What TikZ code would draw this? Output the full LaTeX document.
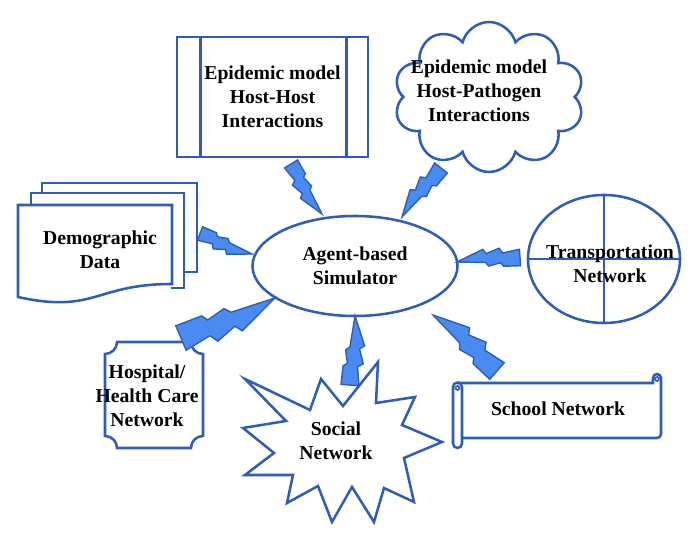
\documentclass[tikz,border=0pt]{standalone}
\usepackage{fontspec}
\setmainfont{Liberation Serif}
\usetikzlibrary{shapes.geometric,shapes.symbols,calc}
\definecolor{edge}{HTML}{2F5DB3}
\definecolor{boltfill}{HTML}{4A8BF2}

% lightning bolt from wide end #1 to tip #2
\newcommand\drawbolt[2]{%
  \filldraw[bolt] let \p1=(#1), \p2=(#2),
    \n1={atan2(\y2-\y1,\x2-\x1)}, \n2={veclen(\x2-\x1,\y2-\y1)} in
    [shift={(\p1)}, rotate=\n1, x=\n2, y=\n2]
    (0,0.13) -- (0.27,0.12) -- (0.31,0.06) -- (0.50,0.10) -- (0.55,0.04) -- (1,0)
    -- (0.58,-0.17) -- (0.53,-0.10) -- (0.32,-0.17) -- (0.27,-0.09) -- (0,-0.13) -- cycle;}

\begin{document}
\begin{tikzpicture}[
  x=0.025cm, y=-0.025cm,
  font=\fontsize{14}{17}\selectfont\bfseries,
  outline/.style={draw=edge, line width=1.8pt},
  txt/.style={align=center, inner sep=0pt},
  bolt/.style={draw=edge, fill=boltfill, line width=1pt},
]
\useasboundingbox[fill=white] (0,0) rectangle (700,551);
% --- centre ---
\node[outline, ellipse, minimum width=5.125cm, minimum height=2.5cm, txt] (abs) at (355,266) {Agent-based\\Simulator};
% --- host-host model (predefined process) ---
\node[outline, minimum width=4.775cm, minimum height=3cm, txt] (hosthost) at (272.5,97) {Epidemic model\\Host-Host\\Interactions};
\draw[outline] ($(hosthost.north west)+(25,0)$) -- ($(hosthost.south west)+(25,0)$);
\draw[outline] ($(hosthost.north east)+(-23,0)$) -- ($(hosthost.south east)+(-23,0)$);
% --- host-pathogen model (cloud) ---
\node[outline, cloud, cloud puffs=10, cloud ignores aspect, minimum width=4.75cm, minimum height=3.75cm] (hostpath) at (489,97) {};
\node[txt] (hostpathlbl) at (479,91) {Epidemic model\\Host-Pathogen\\Interactions};
% --- demographic data (multi-document) ---
\draw[outline] (42,193) -- (42,183) -- (197,183) -- (197,272) -- (184,272);
\draw[outline] (31,205) -- (31,193) -- (184,193) -- (184,288) -- (171,288);
\draw[outline, fill=white] (18,205) -- (172,205) -- (172,284) .. controls (95,284) and (95,314) .. (18,297) -- cycle;
\node[txt] (demog) at (100,250) {Demographic\\Data};
% --- transportation ---
\node[outline, ellipse, minimum width=3.8cm, minimum height=3.2cm] (transport) at (604,259) {};
\draw[outline] (transport.north) -- (transport.south);
\draw[outline] (transport.west) -- (transport.east);
\node[txt] (transportlbl) at (610,264) {Transportation\\Network};
% --- hospital (plaque) ---
\draw[outline] (117,342) -- (191,342) arc[start angle=180, end angle=90, radius=12]
  -- (203,436) arc[start angle=270, end angle=180, radius=12]
  -- (117,448) arc[start angle=0, end angle=-90, radius=12]
  -- (105,354) arc[start angle=90, end angle=0, radius=12] -- cycle;
\node[txt] (hospital) at (147,396) {Hospital/\\Health Care\\Network};
% --- social network (starburst) ---
\draw[outline, line join=miter] (245,379) -- (310,410) -- (321,379) -- (343,406) -- (378,362) -- (376,403)
  -- (415,397) -- (402,425) -- (442,442) -- (404,458) -- (414,502) -- (384,488)
  -- (374,522) -- (352,487) -- (332,522) -- (318,486) -- (287,503) -- (293,475)
  -- (245,475) -- (274,453) -- (243,428) -- (286,421) -- cycle;
\node[txt] (social) at (336,441) {Social\\Network};
% --- school network (scroll) ---
\draw[outline] (457,383) -- (653,383) -- (653,378) arc[start angle=180, end angle=360, radius=4]
  -- (661,434) arc[start angle=0, end angle=90, radius=4] -- (462,438);
\draw[outline] (462,387) -- (462,443.5) arc[start angle=0, end angle=180, radius=4.5]
  -- (453,387) arc[start angle=180, end angle=360, radius=4.5];
\draw[outline, line width=1.2pt] (457.5,388) circle[radius=2];
\draw[outline, line width=1.2pt] (657,379) circle[radius=2];
\node[txt] (school) at (558,409) {School Network};
% --- bolt ends ---
\coordinate (hh-a) at (291,164);   \coordinate (hh-b) at (322,214);
\coordinate (hp-a) at (441,168);   \coordinate (hp-b) at (402,217);
\coordinate (dd-a) at (200,233.5); \coordinate (dd-b) at (252,254);
\coordinate (tn-a) at (520,257.5); \coordinate (tn-b) at (457,262);
\coordinate (hc-a) at (181,338);   \coordinate (hc-b) at (275,298);
\coordinate (sn-a) at (350,385);   \coordinate (sn-b) at (355,316);
\coordinate (sc-a) at (497,371);   \coordinate (sc-b) at (433,315);
\foreach \s in {hh,hp,dd,tn,hc,sn,sc} {
  \drawbolt{\s-a}{\s-b}
}
\end{tikzpicture}
\end{document}
